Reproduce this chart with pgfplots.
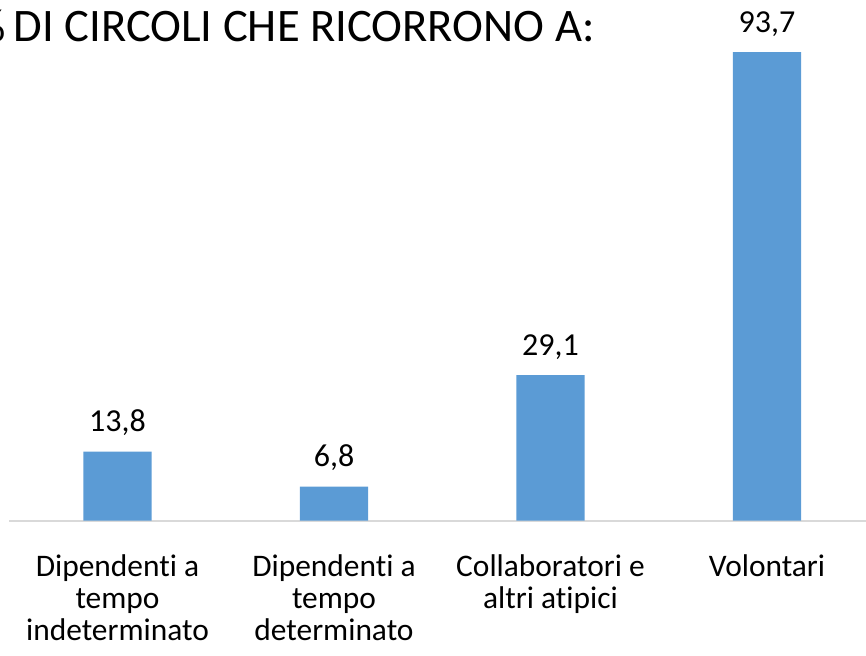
\documentclass[border=0pt]{standalone}
\usepackage{fontspec}
\setmainfont[Ligatures={NoCommon}]{Carlito}
\usepackage{pgfplots}
\pgfplotsset{compat=1.18}
\definecolor{barblue}{HTML}{5B9BD5}
\definecolor{axgray}{HTML}{D9D9D9}
\begin{document}
\begin{tikzpicture}
\useasboundingbox (0,0) rectangle (433pt,327.5pt);
\node[anchor=base east, font=\fontsize{23.3}{27}\selectfont, inner sep=0pt] at (297.5pt,306.5pt) {\%\kern-1.5pt\ DI CIRCOLI CHE RICORRONO A:};
\begin{axis}[
 at={(4.625pt,67.25pt)}, anchor=south west,
 scale only axis, width=433pt, height=250pt,
 xmin=-0.5, xmax=3.5, ymin=0, ymax=100,
 axis x line=bottom, axis y line=none,
 x axis line style={-, draw=axgray, line width=1pt},
 xtick=data, xtick style={draw=none},
 xticklabels={{Dipendenti a\\tempo\\indeterminato},{Dipendenti a\\tempo\\determinato},{Collaboratori e\\altri atipici},{Volontari}},
 xticklabel style={align=center, inner sep=0pt, font=\fontsize{15.7}{16}\selectfont},
 xticklabel shift=12.5pt,
 ybar, bar width=34.15pt,
 nodes near coords,
 nodes near coords style={font=\fontsize{16}{18}\selectfont, anchor=base, inner sep=0pt, yshift=10pt, black},
 clip=false,
 /pgf/number format/.cd, use comma, fixed, fixed zerofill, precision=1, assume math mode=true
]
\addplot[fill=barblue, draw=none] coordinates {(0,13.8) (1,6.8) (2,29.1) (3,93.7)};
\end{axis}
\end{tikzpicture}
\end{document}
